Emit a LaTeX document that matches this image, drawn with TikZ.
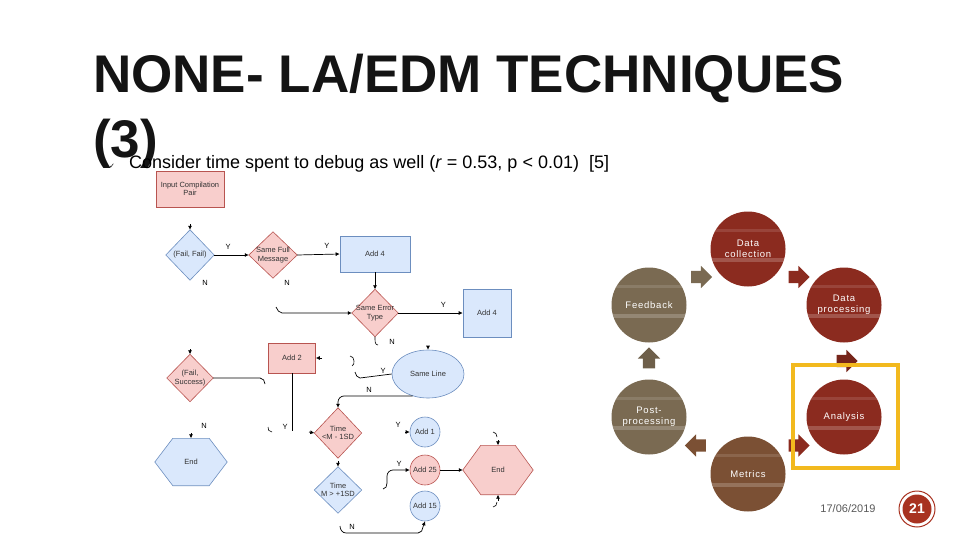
\documentclass[tikz,border=0pt]{standalone}
\usepackage{fontspec}
\setmainfont{Liberation Sans}
\newfontfamily\symfont{DejaVu Sans}
\newfontfamily\spaced[LetterSpace=8]{Liberation Sans}
\usetikzlibrary{shapes.arrows,shapes.geometric,arrows.meta,calc}
\definecolor{fpink}{HTML}{F8CECC}
\definecolor{fpinkb}{HTML}{B85450}
\definecolor{fblue}{HTML}{DAE8FC}
\definecolor{fblueb}{HTML}{6C8EBF}
\definecolor{ftext}{HTML}{333333}
\definecolor{cred}{HTML}{8B2B1F}
\definecolor{colive}{HTML}{7A6A52}
\definecolor{cbrown}{HTML}{7B5034}
\definecolor{gold}{HTML}{F2B91E}
\definecolor{pagered}{HTML}{A83220}
\definecolor{dategray}{HTML}{595959}
\pgfdeclarelayer{bg}
\pgfsetlayers{bg,main}
\newcommand\mydiam[2]{\begin{pgfonlayer}{bg}\draw[#2] (#1.north) -- (#1.east) -- (#1.south) -- (#1.west) -- cycle;\end{pgfonlayer}}
\newcommand\myhex[2]{\begin{pgfonlayer}{bg}\draw[#2] (#1.west) -- ($(#1.north west)+(18,0)$) -- ($(#1.north east)+(-18,0)$) -- (#1.east) -- ($(#1.south east)+(-18,0)$) -- ($(#1.south west)+(18,0)$) -- cycle;\end{pgfonlayer}}
\begin{document}
\begin{tikzpicture}[x=1pt,y=-1pt,
  ftxt/.style={font=\fontsize{7.5}{8.5}\selectfont, text=ftext, align=center, inner sep=0},
  pinkfill/.style={fill=fpink, draw=fpinkb, line width=0.6pt},
  bluefill/.style={fill=fblue, draw=fblueb, line width=0.6pt},
  pinkrect/.style={ftxt, rectangle, pinkfill},
  bluerect/.style={ftxt, rectangle, bluefill},
  shapebox/.style={ftxt, rectangle},
  flow/.style={line width=0.7pt, black},
  arr/.style={flow, -{Latex[length=4pt,width=4pt]}},
  frag/.style={line width=0.6pt, black},
  lab/.style={font=\fontsize{7.5}{8}\selectfont, text=black, inner sep=0},
  cyc/.style={circle, minimum size=75pt, inner sep=0, text=white, align=center,
    font=\spaced\fontsize{9.5}{11}\selectfont,
    path picture={\fill[white,opacity=0.2] ($(path picture bounding box.west)+(0,9)$) rectangle ($(path picture bounding box.east)+(0,13)$);
                  \fill[white,opacity=0.12] ($(path picture bounding box.west)+(0,-20)$) rectangle ($(path picture bounding box.east)+(0,-17)$);}},
  blk/.style={single arrow, minimum height=21pt, inner sep=6pt, single arrow head extend=5pt, draw=none}
]
\useasboundingbox (0,0) rectangle (960,540);

% ---------------- title ----------------
\node[anchor=base west, inner sep=0, font=\bfseries\fontsize{53}{53}\selectfont, text=black!92] (title1) at (93,93) {NONE- LA/EDM TECHNIQUES};
\node[anchor=base west, inner sep=0, font=\bfseries\fontsize{53}{53}\selectfont, text=black!92] (title2) at (93,158) {(3)};
\node[anchor=base west, inner sep=0, font=\symfont\fontsize{7}{7}\selectfont] (chk) at (109,168) {✓};
\node[anchor=base west, inner sep=0, font=\fontsize{18}{18}\selectfont] (sub) at (129,168) {Consider time spent to debug as well (\textit{r} = 0.53, p < 0.01)~~[5]};

% ---------------- flowchart nodes ----------------
\node[pinkrect, minimum width=68pt, minimum height=36pt] (icp) at (190,189) {Input Compilation\\Pair};
\node[shapebox, minimum width=48pt, minimum height=50pt] (ff) at (190,255) {(Fail, Fail)};
\mydiam{ff}{bluefill}
\node[shapebox, minimum width=48pt, minimum height=46pt] (sfm) at (273,255) {Same Full\\Message};
\mydiam{sfm}{pinkfill}
\node[bluerect, minimum width=70pt, minimum height=36pt] (add4a) at (375,254) {Add 4};
\node[shapebox, minimum width=46pt, minimum height=47pt] (set) at (375,313) {Same Error\\Type};
\mydiam{set}{pinkfill}
\node[bluerect, minimum width=48pt, minimum height=48pt] (add4b) at (487,313) {Add 4};
\node[shapebox, minimum width=46pt, minimum height=47pt] (fs) at (190,378) {(Fail,\\Success)};
\mydiam{fs}{pinkfill}
\node[pinkrect, minimum width=47pt, minimum height=30pt] (add2) at (292,358) {Add 2};
\node[shapebox, minimum width=72pt, minimum height=47pt] (endA) at (191,462) {End};
\myhex{endA}{bluefill}
\node[ftxt, ellipse, bluefill, minimum width=72pt, minimum height=48pt] (sl) at (428,374) {Same Line};
\node[shapebox, minimum width=47pt, minimum height=50pt] (tlt) at (338,433) {Time\\<M - 1SD};
\mydiam{tlt}{pinkfill}
\node[shapebox, minimum width=47pt, minimum height=46pt] (tgt) at (338,490) {Time\\M > +1SD};
\mydiam{tgt}{bluefill}
\node[ftxt, circle, bluefill, minimum size=30pt] (a1) at (425,432) {Add 1};
\node[ftxt, circle, pinkfill, minimum size=30pt] (a25) at (425,470) {Add 25};
\node[ftxt, circle, bluefill, minimum size=30pt] (a15) at (425,506) {Add 15};
\node[shapebox, minimum width=70pt, minimum height=49pt] (endB) at (498,470) {End};
\myhex{endB}{pinkfill}

% ---------------- flowchart connectors ----------------
\coordinate (ffin) at (190,224);
\draw[arr] (ffin) -- (ff.north);
\draw[arr] (ff.east) -- node[lab, above=5pt, pos=0.4] (y1) {Y} (sfm.west);
\draw[arr] (sfm.east) -- node[lab, above=5pt, pos=0.7] (y2) {Y} (add4a.west);
\node[lab] (n1) at (205,283) {N};
\node[lab] (n2) at (287,283) {N};
\draw[arr] (add4a.south) -- (set.north);
\coordinate (setin) at (276,307);
\draw[arr] (setin) to[out=-60,in=180] ($(setin)+(6,6)$) -- (set.west);
\draw[arr] (set.east) -- node[lab, above=5pt, pos=0.7] (y3) {Y} (add4b.west);
\coordinate (setn) at (378,345);
\draw[frag] (set.south) to[out=-90,in=180] (setn);
\node[lab] (n3) at (392,342) {N};
\coordinate (slin) at (428,346);
\draw[arr] (slin) -- (sl.north);
\coordinate (sly) at (355,372);
\draw[flow] (sl.west) -- (360,378) to[out=180,in=-70] (sly);
\coordinate (fragA) at (350,356);
\draw[frag] (fragA) to[out=0,in=90] (354,361) to[out=-90,in=20] (352,366);
\node[lab] (y4) at (383,371) {Y};
\coordinate (sln) at (406,396);
\draw[arr] (sl.-125) -- (sln) -- (344,396) to[out=180,in=90] (338,402) -- (tlt.north);
\node[lab] (n4) at (369,390) {N};
\coordinate (add2in) at (322,358);
\draw[arr] (add2in) -- (add2.east);
\coordinate (add2y) at (292,431);
\draw[flow] (add2.south) -- (add2y);
\node[lab] (y5) at (285,427) {Y};
\coordinate (fragC) at (268,427);
\draw[frag] (fragC) to[out=-110,in=180] (272,432);
\coordinate (fsin) at (190,349);
\draw[arr] (fsin) -- (fs.north);
\coordinate (fsout) at (265,384);
\draw[flow] (fs.east) -- (260,378) to[out=0,in=90] (fsout);
\node[lab] (n5) at (204,426) {N};
\coordinate (endAin) at (191,433);
\draw[arr] (endAin) -- (endA.north);
\coordinate (tltin) at (309,432);
\draw[arr] (tltin) -- (tlt.west);
\coordinate (tgtin) at (338,461);
\draw[arr] (tgtin) -- (tgt.north);
\coordinate (nlow) at (340,526);
\draw[arr] (nlow) to[out=-90,in=180] (346,533) -- (418,533) to[out=0,in=-90] (423,527) -- (a15.south);
\node[lab] (n6) at (352,527) {N};
\coordinate (a1in) at (405,432);
\draw[arr] (a1in) -- (a1.west);
\node[lab] (y6) at (398,425) {Y};
\coordinate (a25in) at (383,489);
\draw[arr] (a25in) to[out=0,in=-90] (387,483) -- (387,476) to[out=90,in=180] (393,470) -- (a25.west);
\node[lab] (y7) at (399,464) {Y};
\draw[arr] (a25.east) -- (endB.west);
\coordinate (endBt) at (498,440);
\draw[arr] (endBt) -- (endB.north);
\coordinate (endBb) at (498,501);
\draw[arr] (endBb) -- (endB.south);
\coordinate (fragD) at (493,432);
\draw[frag] (fragD) to[out=0,in=90] (497,437);
\coordinate (fragE) at (493,507);
\draw[frag] (fragE) to[out=0,in=-90] (497,502);

% ---------------- cycle ----------------
\node[cyc, fill=cred] (dc) at (748,249) {Data\\collection};
\node[cyc, fill=cred] (dp) at (844,305) {Data\\processing};
\node[cyc, fill=colive] (fb) at (649,305) {Feedback};
\node[cyc, fill=cred] (an) at (844,417) {Analysis};
\node[cyc, fill=colive] (pp) at (649,417) {Post-\\processing};
\node[cyc, fill=cbrown] (me) at (748,474) {Metrics};

\node[blk, fill=colive, shape border rotate=30] (a_fb_dc) at ($(fb)!0.5!(dc)$) {};
\node[blk, fill=cred, shape border rotate=-30] (a_dc_dp) at ($(dc)!0.5!(dp)$) {};
\node[blk, fill=cred!85!black, shape border rotate=-90] (a_dp_an) at ($(dp)!0.5!(an)$) {};
\node[blk, fill=cred, shape border rotate=30] (a_me_an) at ($(me)!0.5!(an)$) {};
\node[blk, fill=cbrown, shape border rotate=150] (a_me_pp) at ($(me)!0.5!(pp)$) {};
\node[blk, fill=colive!90!black, shape border rotate=90] (a_pp_fb) at ($(pp)!0.5!(fb)$) {};

\node[draw=gold, line width=4pt, minimum width=105pt, minimum height=103pt, inner sep=0] (hl) at (845.5,416.5) {};

% ---------------- footer ----------------
\node[font=\fontsize{11}{11}\selectfont, text=dategray, inner sep=0] (date) at (848,509) {17/06/2019};
\node[circle, draw=pagered, line width=1pt, fill=white, minimum size=36pt, inner sep=0] (pgo) at (917,509) {};
\node[circle, fill=pagered, minimum size=29pt, inner sep=0, text=white, font=\bfseries\fontsize{14}{14}\selectfont] (pg) at (pgo) {21};
\end{tikzpicture}
\end{document}
